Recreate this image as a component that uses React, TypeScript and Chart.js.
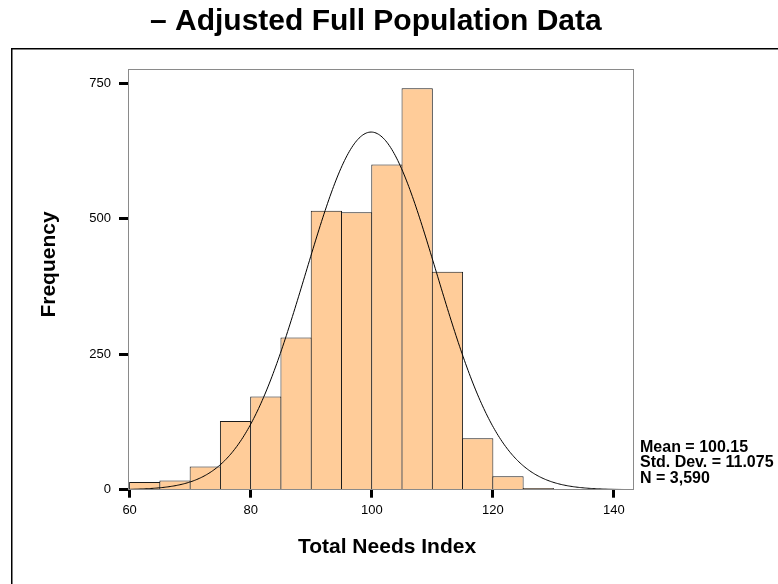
import { useEffect, useRef } from "react";
import { Chart, registerables } from "chart.js";

Chart.register(...registerables);

// ---- data ----
const binStarts = [60, 65, 70, 75, 80, 85, 90, 95, 100, 105, 110, 115, 120, 125];
const frequencies = [14, 17, 43, 127, 172, 281, 515, 512, 600, 741, 402, 95, 25, 3];
const binWidth = 5;
const xTicks = [60, 80, 100, 120, 140];
const yTicks = [0, 250, 500, 750];
const xMin = 59.9;
const xMax = 143.1;
const yMax = 775.8;

// fitted normal curve as drawn in the reference (peak height, centre, spread)
const curvePeak = 660;
const curveCenter = 99.9;
const curveSpread = 10.8;

const statLines = ["Mean = 100.15", "Std. Dev. = 11.075", "N = 3,590"];

const titleText = "\u2013 Adjusted Full Population Data";
const xTitle = "Total Needs Index";
const yTitle = "Frequency";

const FONT = '"Liberation Sans", Arial, Helvetica, sans-serif';

function normalCurve(): { x: number; y: number }[] {
  const pts: { x: number; y: number }[] = [];
  for (let x = xMin; x <= xMax + 0.001; x += 0.2) {
    const z = (x - curveCenter) / curveSpread;
    pts.push({ x, y: curvePeak * Math.exp(-0.5 * z * z) });
  }
  return pts;
}

const decorPlugin = {
  id: "decor",
  afterDatasetsDraw(chart: any) {
    const { ctx, chartArea } = chart;
    ctx.save();
    ctx.strokeStyle = "#8a8a8a";
    ctx.lineWidth = 1;
    ctx.strokeRect(
      Math.round(chartArea.left) - 0.5,
      Math.round(chartArea.top) + 0.5,
      Math.round(chartArea.right - chartArea.left) + 1,
      Math.round(chartArea.bottom - chartArea.top)
    );
    ctx.restore();
  },
  afterDraw(chart: any) {
    const { ctx } = chart;
    ctx.save();
    // outer frame
    ctx.strokeStyle = "#000";
    ctx.lineWidth = 1.5;
    ctx.beginPath();
    ctx.moveTo(11.75, 700);
    ctx.lineTo(11.75, 48.75);
    ctx.lineTo(900, 48.75);
    ctx.stroke();

    ctx.fillStyle = "#000";
    // main title
    ctx.font = `bold 30px ${FONT}`;
    ctx.textAlign = "left";
    ctx.textBaseline = "alphabetic";
    ctx.fillText(titleText, 150, 30);

    // x title
    ctx.font = `bold 21px ${FONT}`;
    ctx.textAlign = "center";
    ctx.fillText(xTitle, 387, 553);

    // y title
    ctx.save();
    ctx.translate(55, 264.5);
    ctx.rotate(-Math.PI / 2);
    ctx.fillText(yTitle, 0, 0);
    ctx.restore();

    // stats
    ctx.font = `bold 16px ${FONT}`;
    ctx.textAlign = "left";
    statLines.forEach((s, i) => ctx.fillText(s, 640, 451.5 + i * 15.5));
    ctx.restore();
  },
};

export default function App() {
  const ref = useRef<HTMLCanvasElement>(null);

  useEffect(() => {
    if (!ref.current) return;
    const pxPerBin = ((632.7 - 129) / (xMax - xMin)) * binWidth;
    const chart = new Chart(ref.current, {
      type: "bar",
      data: {
        datasets: [
          {
            type: "line",
            data: normalCurve(),
            borderColor: "#000",
            borderWidth: 1,
            pointRadius: 0,
            tension: 0,
            order: 0,
          } as any,
          {
            type: "bar",
            data: binStarts.map((s, i) => ({ x: s + binWidth / 2, y: frequencies[i] })),
            backgroundColor: "#FFCC99",
            borderColor: "#1a1a1a",
            borderWidth: 1,
            borderSkipped: "bottom",
            barPercentage: 1 + 1 / pxPerBin,
            categoryPercentage: 1,
            order: 1,
          } as any,
        ],
      },
      options: {
        animation: false,
        responsive: false,
        devicePixelRatio: 1,
        layout: { padding: { left: 0, top: 69.3, right: 778 - 632.7, bottom: 584 - 489.7 - 40 } },
        plugins: { legend: { display: false }, tooltip: { enabled: false }, title: { display: false } },
        scales: {
          x: {
            type: "linear",
            offset: false,
            min: xMin,
            max: xMax,
            afterBuildTicks: (s: any) => {
              s.ticks = xTicks.map((v) => ({ value: v }));
            },
            afterFit: (s: any) => {
              s.height = 40;
            },
            ticks: {
              color: "#000",
              font: { family: FONT, size: 13 },
              padding: 5,
              maxRotation: 0,
              autoSkip: false,
            },
            grid: {
              display: true,
              offset: false,
              drawOnChartArea: false,
              drawTicks: true,
              tickLength: 8,
              tickWidth: 3,
              tickColor: "#000",
            },
            border: { display: false },
          },
          y: {
            type: "linear",
            min: 0,
            max: yMax,
            afterBuildTicks: (s: any) => {
              s.ticks = yTicks.map((v) => ({ value: v }));
            },
            afterFit: (s: any) => {
              s.width = 129;
            },
            ticks: {
              color: "#000",
              font: { family: FONT, size: 13 },
              padding: 8,
              autoSkip: false,
            },
            grid: {
              display: true,
              drawOnChartArea: false,
              drawTicks: true,
              tickLength: 10,
              tickWidth: 3,
              tickColor: "#000",
            },
            border: { display: false },
          },
        },
      },
      plugins: [decorPlugin],
    });
    return () => chart.destroy();
  }, []);

  return (
    <canvas
      ref={ref}
      width={778}
      height={584}
      style={{ position: "absolute", left: 0, top: 0, width: 778, height: 584, display: "block" }}
    />
  );
}
